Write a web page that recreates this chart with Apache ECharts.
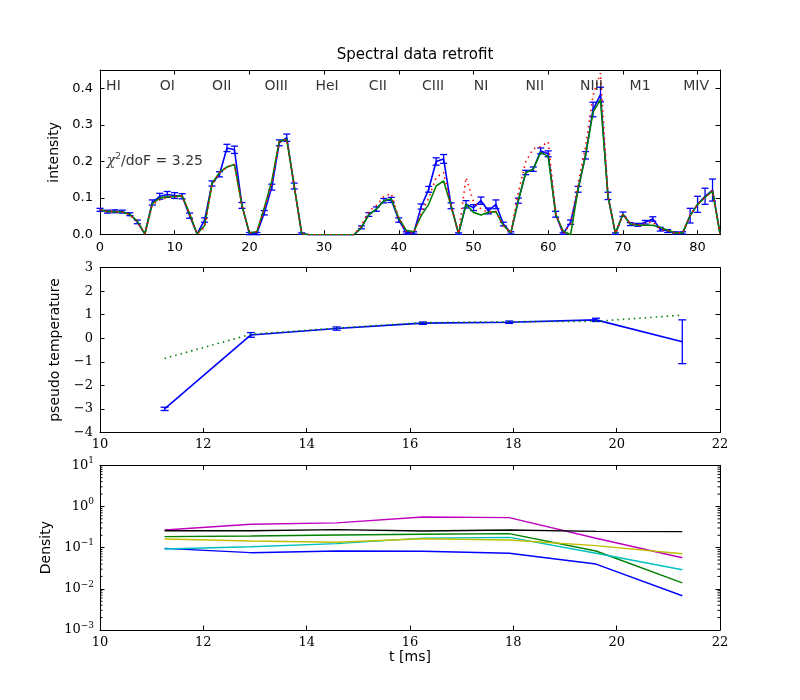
<!DOCTYPE html>
<html><head><meta charset="utf-8">
<script src="https://cdn.jsdelivr.net/npm/echarts@6/dist/echarts.min.js"></script>
<style>html,body{margin:0;padding:0;background:#fff}#c{width:800px;height:700px}</style>
</head><body><div id="c"></div>
<script>
// ---------- top panel data ----------
const specX = [0,1,2,3,4,5,6,7,8,9,10,11,12,13,14,15,16,17,18,19,20,21,22,23,24,25,26,27,28,29,30,31,32,33,34,35,36,37,38,39,40,41,42,43,44,45,46,47,48,49,50,51,52,53,54,55,56,57,58,59,60,61,62,63,64,65,66,67,68,69,70,71,72,73,74,75,76,77,78,79,80,81,82,83];
const specData = [0.068,0.063,0.064,0.063,0.056,0.035,0.002,0.088,0.105,0.110,0.107,0.105,0.052,0.002,0.040,0.140,0.165,0.237,0.232,0.080,0.003,0.003,0.060,0.130,0.251,0.265,0.133,0.003,0,0,0,0,0,0,0,0.020,0.055,0.070,0.093,0.095,0.040,0.005,0.005,0.077,0.124,0.200,0.207,0.079,0.003,0.083,0.074,0.093,0.065,0.083,0.029,0.005,0.093,0.170,0.179,0.229,0.221,0.056,0.003,0.034,0.124,0.217,0.342,0.383,0.106,0.003,0.056,0.029,0.027,0.034,0.043,0.015,0.010,0.005,0.005,0.052,0.083,0.105,0.122,0.003];
const specErr = [0.004,0.004,0.004,0.004,0.004,0.005,0,0.007,0.008,0.008,0.008,0.007,0.007,0,0.006,0.007,0.007,0.010,0.010,0.008,0.003,0.003,0.006,0.008,0.008,0.010,0.008,0.002,0,0,0,0,0,0,0,0.004,0.005,0.006,0.006,0.007,0.006,0.003,0.003,0.007,0.008,0.010,0.012,0.008,0.002,0.010,0.008,0.010,0.008,0.012,0.005,0.003,0.007,0.006,0.006,0.008,0.008,0.008,0.002,0.006,0.008,0.010,0.020,0.020,0.010,0.002,0.006,0.004,0.004,0.005,0.006,0.005,0.004,0.003,0.003,0.020,0.022,0.022,0.030,0];
const fitGreen = [0.068,0.063,0.063,0.062,0.055,0.037,0.002,0.085,0.100,0.104,0.104,0.106,0.058,0.002,0.025,0.140,0.170,0.185,0.192,0.080,0.005,0.008,0.074,0.147,0.256,0.260,0.133,0.003,0,0,0,0,0,0,0,0.020,0.055,0.070,0.093,0.098,0.045,0.012,0.008,0.052,0.083,0.133,0.147,0.079,0.003,0.083,0.061,0.054,0.061,0.063,0.025,0.005,0.093,0.170,0.179,0.225,0.214,0.056,0.010,0.000,0.124,0.217,0.335,0.369,0.106,0.003,0.056,0.029,0.026,0.026,0.026,0.020,0.012,0.005,0.005,0.052,0.083,0.102,0.120,0.003];
const fitRed = [0.068,0.063,0.063,0.062,0.055,0.035,0.002,0.082,0.095,0.102,0.104,0.106,0.055,0.002,0.020,0.135,0.170,0.185,0.192,0.080,0.005,0.008,0.070,0.140,0.252,0.260,0.133,0.003,0,0,0,0,0,0,0,0.025,0.065,0.080,0.105,0.112,0.045,0.008,0.005,0.060,0.100,0.156,0.170,0.079,0.003,0.156,0.090,0.070,0.061,0.063,0.025,0.005,0.115,0.200,0.235,0.240,0.254,0.060,0.003,0.030,0.140,0.240,0.380,0.442,0.106,0.003,0.056,0.030,0.027,0.030,0.035,0.015,0.010,0.005,0.005,0.052,0.083,0.102,0.120,0.003];
const lineNames = ['HI','OI','OII','OIII','HeI','CII','CIII','NI','NII','NIII','M1','MIV'];
const lineNameX = [1.8,9.0,16.3,23.6,30.4,37.2,44.6,51.0,58.2,65.8,72.3,79.8];
const lineNameY = 0.405;
const chiText = 'χ²/doF = 3.25';
const chiPos = [0.9, 0.201];

// ---------- middle panel data ----------
const tTimes = [11.25,12.92,14.58,16.25,17.92,19.6,21.27];
const tempData = [-3.0,0.14,0.41,0.64,0.68,0.78,-0.15];
const tempErr = [0.07,0.10,0.07,0.05,0.05,0.07,0.93];
const tempFit = [-0.86,0.17,0.43,0.66,0.70,0.72,0.98];

// ---------- bottom panel data ----------
const densBlue    = [0.096,0.0755,0.083,0.0815,0.073,0.040,0.0068];
const densGreen   = [0.185,0.192,0.203,0.211,0.219,0.083,0.0140];
const densCyan    = [0.093,0.105,0.125,0.170,0.178,0.073,0.029];
const densMagenta = [0.268,0.369,0.400,0.556,0.535,0.169,0.057];
const densYellow  = [0.162,0.145,0.135,0.165,0.153,0.112,0.071];
const densBlack   = [0.258,0.258,0.274,0.254,0.268,0.249,0.245];
const logMinor = [0.002,0.003,0.004,0.005,0.006,0.007,0.008,0.009,0.02,0.03,0.04,0.05,0.06,0.07,0.08,0.09,0.2,0.3,0.4,0.5,0.6,0.7,0.8,0.9,2,3,4,5,6,7,8,9];

const SANS = 'DejaVu Sans', SERIF = 'DejaVu Serif';
const chart = echarts.init(document.getElementById('c'), null, {renderer:'canvas'});

function makeX(gi, min, max, interval, font, name) {
  const common = {type:'value', gridIndex:gi, min, max, interval,
    axisLine:{show:true, onZero:false, lineStyle:{color:'#000', width:1}},
    axisTick:{show:true, inside:true, length:4.5, lineStyle:{color:'#000'}},
    splitLine:{show:false}};
  return [
    Object.assign({}, common, {position:'bottom',
      axisLabel:{show:true, color:'#000', fontFamily:font, fontSize:13, margin:6, showMaxLabel:true, showMinLabel:true,
        formatter: v => (Math.abs(v/interval - Math.round(v/interval))<1e-6 ? String(v) : '')},
      name: name || '', nameLocation:'middle', nameGap:20,
      nameTextStyle:{color:'#000', fontFamily:SANS, fontSize:14}}),
    Object.assign({}, common, {position:'top', axisLabel:{show:false}})
  ];
}
function makeY(gi, min, max, interval, fmt, font, name, gap) {
  const common = {type:'value', gridIndex:gi, min, max, interval,
    axisLine:{show:true, onZero:false, lineStyle:{color:'#000', width:1}},
    axisTick:{show:true, inside:true, length:4.5, lineStyle:{color:'#000'}},
    splitLine:{show:false}};
  return [
    Object.assign({}, common, {position:'left',
      axisLabel:{show:true, color:'#000', fontFamily:font, fontSize:13, margin:7, showMaxLabel:true, showMinLabel:true, formatter: fmt},
      name, nameLocation:'middle', nameGap:gap,
      nameTextStyle:{color:'#000', fontFamily:SANS, fontSize:14}}),
    Object.assign({}, common, {position:'right', axisLabel:{show:false}})
  ];
}

const xAxes = [].concat(
  makeX(0, 0, 83, 10, SANS),
  makeX(1, 10, 22, 2, SERIF),
  makeX(2, 10, 22, 2, SERIF, 't [ms]')
);
const yAxes = [].concat(
  makeY(0, 0, 0.45, 0.1, v => (Math.abs(v*10 - Math.round(v*10))<1e-6 ? v.toFixed(1) : ''), SANS, 'intensity', 38),
  makeY(1, -4, 3, 1, v => String(v).replace('-', '\u2212'), SERIF, 'pseudo temperature', 38),
  [
    {type:'log', logBase:10, gridIndex:2, min:0.001, max:10, position:'left',
      axisLine:{show:true, onZero:false, lineStyle:{color:'#000'}},
      axisTick:{show:true, inside:true, length:4.5, lineStyle:{color:'#000'}},
      splitLine:{show:false},
      axisLabel:{show:true, color:'#000', fontFamily:SERIF, fontSize:13, margin:6, showMaxLabel:true,
        formatter: v => { const e = Math.round(Math.log10(v)); return '10{sup|' + String(e).replace('-', '\u2212') + '}'; },
        rich:{sup:{fontFamily:SERIF, fontSize:9, color:'#000', padding:[0,0,9,0]}}},
      name:'Density', nameLocation:'middle', nameGap:46,
      nameTextStyle:{color:'#000', fontFamily:SANS, fontSize:14}},
    {type:'log', logBase:10, gridIndex:2, min:0.001, max:10, position:'right',
      axisLine:{show:true, onZero:false, lineStyle:{color:'#000'}},
      axisTick:{show:true, inside:true, length:4.5, lineStyle:{color:'#000'}},
      splitLine:{show:false}, axisLabel:{show:false}}
  ]
);

function errRenderer(cap, color) {
  return function(params, api) {
    const x = api.value(0), y = api.value(1), e = api.value(2);
    if (!(e > 0)) return {type:'group', children:[]};
    const t = api.coord([x, y + e]), b = api.coord([x, y - e]);
    const style = {stroke: color, lineWidth: 1.3, fill: null};
    return {type:'group', children:[
      {type:'line', shape:{x1:t[0], y1:t[1], x2:b[0], y2:b[1]}, style},
      {type:'line', shape:{x1:t[0]-cap, y1:t[1], x2:t[0]+cap, y2:t[1]}, style},
      {type:'line', shape:{x1:b[0]-cap, y1:b[1], x2:b[0]+cap, y2:b[1]}, style}
    ]};
  };
}
function minorRenderer(params, api) {
  const v = api.value(0);
  const l = api.coord([10, v]), r = api.coord([22, v]);
  const style = {stroke:'#000', lineWidth:1};
  return {type:'group', children:[
    {type:'line', shape:{x1:l[0], y1:l[1], x2:l[0]+2.5, y2:l[1]}, style},
    {type:'line', shape:{x1:r[0]-2.5, y1:r[1], x2:r[0], y2:r[1]}, style}
  ]};
}
function lineSeries(xi, yi, xs, ys, color, type, width, z) {
  return {type:'line', xAxisIndex:xi, yAxisIndex:yi, data: xs.map((x,i)=>[x, ys[i]]),
    showSymbol:false, symbol:'none', silent:true, animation:false, z: z||2,
    lineStyle:{color, width: width||1.4, type: type||'solid'}};
}

const series = [
  // top panel
  lineSeries(0, 0, specX, specData, '#0000ff', 'solid', 1.6, 2),
  {type:'custom', xAxisIndex:0, yAxisIndex:0, renderItem: errRenderer(3.5, '#0000ff'), z:2,
    data: specX.map((x,i)=>[x, specData[i], specErr[i]]), animation:false, silent:true},
  lineSeries(0, 0, specX, fitGreen, '#008000', 'solid', 1.6, 3),
  lineSeries(0, 0, specX, fitRed, '#ff0000', [1.5, 4], 1.6, 4),
  {type:'scatter', xAxisIndex:0, yAxisIndex:0, symbolSize:0, silent:true, animation:false, z:5,
    data: lineNames.map((n,i)=>({name:n, value:[lineNameX[i], lineNameY]})),
    label:{show:true, position:'inside', formatter:'{b}', color:'#000', fontFamily:SANS, fontSize:14}},
  {type:'scatter', xAxisIndex:0, yAxisIndex:0, symbolSize:0, silent:true, animation:false, z:5,
    data: [{name: chiText, value: chiPos}],
    label:{show:true, position:'right', distance:0, color:'#000', fontFamily:SANS, fontSize:14,
      formatter: '{chi|χ}{sup|2}/doF = 3.25',
      rich:{chi:{fontFamily:SERIF, fontStyle:'italic', fontSize:14, color:'#000'},
            sup:{fontFamily:SANS, fontSize:9, color:'#000', padding:[0,0,9,0]}}}},
  // middle panel
  lineSeries(2, 2, tTimes, tempData, '#0000ff', 'solid', 1.6, 2),
  {type:'custom', xAxisIndex:2, yAxisIndex:2, renderItem: errRenderer(4, '#0000ff'), z:2,
    data: tTimes.map((x,i)=>[x, tempData[i], tempErr[i]]), animation:false, silent:true},
  lineSeries(2, 2, tTimes, tempFit, '#008000', [1.5, 4], 1.6, 3),
  // bottom panel
  lineSeries(4, 4, tTimes, densBlue, '#0000ff', 'solid', 1.4, 2),
  lineSeries(4, 4, tTimes, densGreen, '#008000', 'solid', 1.4, 2),
  lineSeries(4, 4, tTimes, densCyan, '#00bfbf', 'solid', 1.4, 2),
  lineSeries(4, 4, tTimes, densMagenta, '#bf00bf', 'solid', 1.4, 2),
  lineSeries(4, 4, tTimes, densYellow, '#bfbf00', 'solid', 1.4, 2),
  lineSeries(4, 4, tTimes, densBlack, '#000000', 'solid', 1.4, 2),
  {type:'custom', xAxisIndex:4, yAxisIndex:4, renderItem: minorRenderer, clip:false,
    data: logMinor.map(v=>[v]), encode:{y:0}, animation:false, silent:true}
];

chart.setOption({
  animation:false,
  backgroundColor:'#fff',
  title:{text:'Spectral data retrofit', left:410, textAlign:'center', top:43,
    textStyle:{fontFamily:SANS, fontSize:15, fontWeight:'normal', color:'#000'}},
  grid:[
    {left:100, right:80, top:70, height:164.7},
    {left:100, right:80, top:267.6, height:164.8},
    {left:100, right:80, top:465.3, height:164.7}
  ],
  xAxis: xAxes,
  yAxis: yAxes,
  series
});
</script></body></html>
